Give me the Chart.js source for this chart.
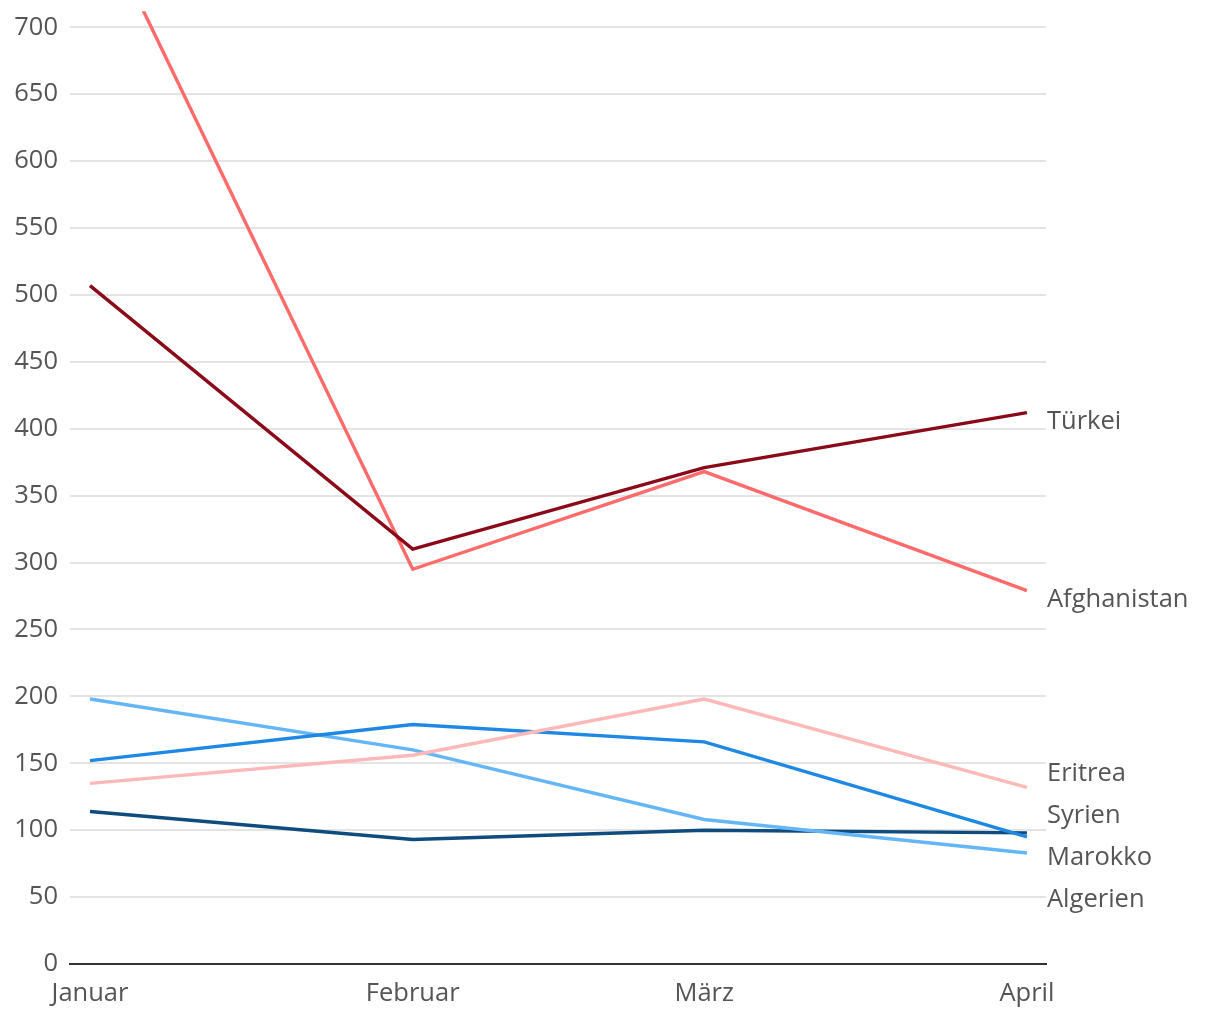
<!DOCTYPE html>
<html>
<head>
<meta charset="utf-8">
<script src="https://cdn.jsdelivr.net/npm/chart.js@4/dist/chart.umd.min.js"></script>
<style>
html,body{margin:0;padding:0;background:#fff;}
#wrap{width:1220px;height:1020px;}
</style>
</head>
<body>
<div id="wrap"><canvas id="c" width="1220" height="1020"></canvas></div>
<script>
// Months as day offsets from 1 January (time axis)
const monthLabels = ["Januar", "Februar", "März", "April"];
const monthDays = [0, 31, 59, 90];

const seriesNames = ["Türkei", "Afghanistan", "Eritrea", "Syrien", "Marokko", "Algerien"];
const tuerkei     = [507, 310, 371, 412];
const afghanistan = [795, 295, 368, 279];
const eritrea     = [135, 156, 198, 132];
const syrien      = [152, 179, 166, 95];
const marokko     = [198, 160, 108, 83];
const algerien    = [114, 93, 100, 98];
const seriesValues = [tuerkei, afghanistan, eritrea, syrien, marokko, algerien];
const seriesColors = ["#8a0a1a", "#ff6a6a", "#ffb8b8", "#1e88e3", "#64b6f7", "#0f4c7e"];

const yTicks = [0, 50, 100, 150, 200, 250, 300, 350, 400, 450, 500, 550, 600, 650, 700];

const FONT = '"Open Sans", "Noto Sans", sans-serif';
const TEXT = '#555555';
const FSIZE = 25.5;

const datasets = seriesNames.map((n, i) => ({
  label: n,
  data: seriesValues[i].map((v, j) => ({x: monthDays[j], y: v})),
  borderColor: seriesColors[i],
  backgroundColor: seriesColors[i],
  borderWidth: 3.4,
  pointRadius: 0,
  tension: 0,
  clip: {left: 0, top: 16, right: 0, bottom: 0}
}));

const endLabels = {
  id: 'endLabels',
  afterDatasetsDraw(chart) {
    const ctx = chart.ctx;
    const x = chart.chartArea.right + 1;
    const gap = 42, off = 9;
    const items = chart.data.datasets.map((ds, i) => {
      const meta = chart.getDatasetMeta(i);
      const pt = meta.data[meta.data.length - 1];
      return {label: ds.label, target: pt.y + off, idx: i};
    });
    // group overlapping labels, centre group on mean target, keep dataset order
    let groups = items.map(it => ({members: [it], y: it.target}));
    let changed = true;
    while (changed) {
      changed = false;
      groups.sort((a, b) => a.y - b.y);
      for (let g = 0; g < groups.length - 1; g++) {
        const A = groups[g], B = groups[g + 1];
        const aBottom = A.y + (A.members.length - 1) * gap / 2;
        const bTop = B.y - (B.members.length - 1) * gap / 2;
        if (bTop - aBottom < gap) {
          const members = A.members.concat(B.members).sort((p, q) => p.idx - q.idx);
          const mean = members.reduce((s, m) => s + m.target, 0) / members.length;
          groups.splice(g, 2, {members, y: mean});
          changed = true;
          break;
        }
      }
    }
    ctx.save();
    ctx.font = FSIZE + 'px ' + FONT;
    ctx.fillStyle = TEXT;
    ctx.textAlign = 'left';
    ctx.textBaseline = 'middle';
    groups.forEach(g => {
      const n = g.members.length;
      g.members.forEach((m, k) => {
        ctx.fillText(m.label, x, g.y + (k - (n - 1) / 2) * gap);
      });
    });
    ctx.restore();
  }
};

new Chart(document.getElementById('c'), {
  type: 'line',
  data: {datasets},
  options: {
    responsive: false,
    animation: false,
    layout: {padding: {top: 26, right: 174, left: 0, bottom: 0}},
    plugins: {legend: {display: false}, tooltip: {enabled: false}},
    scales: {
      x: {
        type: 'linear',
        min: -1.92,
        max: 91.83,
        afterBuildTicks(scale) { scale.ticks = monthDays.map(v => ({value: v})); },
        afterFit(scale) { scale.height = 56; },
        ticks: {
          autoSkip: false,
          maxRotation: 0,
          padding: 14,
          color: TEXT,
          font: {family: FONT, size: FSIZE},
          callback(v) { const i = monthDays.indexOf(v); return i >= 0 ? monthLabels[i] : ''; }
        },
        grid: {display: false, drawTicks: false},
        border: {display: true, color: '#333333', width: 2}
      },
      y: {
        min: 0,
        max: 700,
        afterBuildTicks(scale) { scale.ticks = yTicks.map(v => ({value: v})); },
        afterFit(scale) { scale.width = 70; },
        ticks: {
          padding: 12,
          color: TEXT,
          font: {family: FONT, size: FSIZE}
        },
        grid: {color: '#e4e4e4', lineWidth: 2, drawTicks: false},
        border: {display: false}
      }
    }
  },
  plugins: [endLabels]
});
</script>
</body>
</html>
